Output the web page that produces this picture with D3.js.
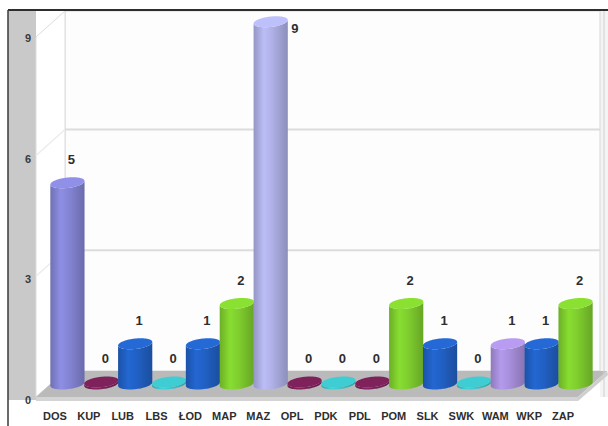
<!DOCTYPE html>
<html>
<head>
<meta charset="utf-8">
<script src="https://cdn.jsdelivr.net/npm/d3@7"></script>
<style>
  html, body { margin: 0; padding: 0; background: #fff; }
  svg { display: block; }
  .tick text { font-family: "Liberation Sans", Arial, sans-serif; font-weight: bold; }
</style>
</head>
<body>
<svg id="chart" width="608" height="426"></svg>
<script>
// Region codes and counts per region
const categories = ["DOS","KUP","LUB","LBS","ŁOD","MAP","MAZ","OPL","PDK","PDL","POM","SLK","SWK","WAM","WKP","ZAP"];
const counts     = [5, 0, 1, 0, 1, 2, 9, 0, 0, 0, 2, 1, 0, 1, 1, 2];
const yTicks     = [0, 3, 6, 9];

const svg = d3.select("#chart");
const W = 608, H = 426;

// Front plane of the 3D box and the oblique depth vector
const front = { left: 36, right: 578, base: 397 };
const depth = { dx: 29, dy: -26 };
const unit = 40.25;

const x = d3.scaleBand().domain(categories).range([front.left, front.right]).padding(0);
const y = d3.scaleLinear().domain([0, 9]).range([front.base, front.base - 9 * unit]);

const color = d3.scaleOrdinal().domain(categories).range([
  "#8484d4", "#7b2159", "#2160c4", "#3cc6cc", "#2160c4", "#7fce2e", "#aeb0e6", "#7b2159",
  "#3cc6cc", "#7b2159", "#7fce2e", "#2160c4", "#3cc6cc", "#a88fdc", "#2160c4", "#7fce2e"
]);

const proj = (px, py, t) => [px + depth.dx * t, py + depth.dy * t];
const backTop = 11;
const wallRight = 600;

// Chart area background
svg.append("rect").attr("x", 8).attr("y", 10).attr("width", W - 8).attr("height", H - 10).attr("fill", "#ffffff");
// Left grey band behind the value axis
svg.append("rect").attr("x", 8).attr("y", 10).attr("width", front.left - 8).attr("height", front.base + 3 - 10).attr("fill", "#c9c9c9");
// Right margin
svg.append("rect").attr("x", wallRight).attr("y", 10).attr("width", W - wallRight).attr("height", front.base - 10).attr("fill", "#f4f4f4");

// Back wall
const [bx0, by0] = proj(front.left, front.base, 1);
svg.append("rect").attr("x", bx0).attr("y", backTop).attr("width", wallRight - bx0).attr("height", by0 - backTop)
  .attr("fill", "#fdfdfd").attr("stroke", "#d6d6d6").attr("stroke-width", 1);

// Left side wall
const ftop = backTop - depth.dy;
svg.append("polygon")
  .attr("points", [[front.left, front.base], [bx0, by0], [bx0, backTop], [front.left, ftop]].map(p => p.join(",")).join(" "))
  .attr("fill", "#ffffff").attr("stroke", "#dcdcdc").attr("stroke-width", 1);

// Gridlines on back wall and side wall
yTicks.filter(v => v > 0).forEach(v => {
  const yb = y(v) + depth.dy;
  if (yb > backTop + 2) {
    svg.append("line").attr("x1", bx0).attr("x2", wallRight).attr("y1", yb).attr("y2", yb)
      .attr("stroke", "#dcdcdc").attr("stroke-width", 2);
  }
  if (y(v) > ftop + 2) {
    svg.append("line").attr("x1", front.left).attr("y1", y(v)).attr("x2", bx0).attr("y2", yb)
      .attr("stroke", "#ececec").attr("stroke-width", 1.5);
  }
});

// Floor
const floorPts = [[front.left, front.base], [front.right, front.base], proj(front.right, front.base, 1), [bx0, by0]];
svg.append("polygon").attr("points", floorPts.map(p => p.join(",")).join(" ")).attr("fill", "#bababa");
svg.append("polygon")
  .attr("points", [[front.left, front.base], [front.right, front.base], [front.right, front.base + 4], [front.left, front.base + 4]].map(p => p.join(",")).join(" "))
  .attr("fill", "#d4d4d4");
svg.append("polygon")
  .attr("points", [[front.right, front.base], proj(front.right, front.base, 1), [W, by0 + 4], [front.right, front.base + 4]].map(p => p.join(",")).join(" "))
  .attr("fill", "#cfcfcf");

// Gradients for the cylinder bodies
const defs = svg.append("defs");
const uniqueColors = Array.from(new Set(color.range()));
const gradId = c => "g" + c.slice(1);
uniqueColors.forEach(c => {
  const g = defs.append("linearGradient").attr("id", gradId(c)).attr("x1", 0).attr("x2", 1).attr("y1", 0).attr("y2", 0);
  const base = d3.color(c);
  g.append("stop").attr("offset", 0).attr("stop-color", base.darker(0.45));
  g.append("stop").attr("offset", 0.3).attr("stop-color", base.brighter(0.2));
  g.append("stop").attr("offset", 0.55).attr("stop-color", base);
  g.append("stop").attr("offset", 1).attr("stop-color", base.darker(0.6));
});

// Cylinder geometry: horizontal radius a, depth radius components (b, c)
const a = 16.2, b = 5.5, cR = 5.5, zMid = 0.5;
const ellipsePt = (cx, cy, th) => [cx + a * Math.cos(th) + b * Math.sin(th), cy - cR * Math.sin(th)];
const thExt = Math.atan2(b, a);

function frontArc(cx, cy, reverse) {
  const pts = d3.range(0, 41).map(i => ellipsePt(cx, cy, thExt + Math.PI + (i / 40) * Math.PI));
  return reverse ? pts.reverse() : pts;
}
function fullEllipse(cx, cy) {
  return d3.range(0, 73).map(i => ellipsePt(cx, cy, (i / 72) * 2 * Math.PI));
}

const line = d3.line();
const bars = svg.append("g");
categories.forEach((cat, i) => {
  const v = counts[i];
  const [cx, cyBase] = proj(x(cat) + x.bandwidth() / 2, front.base, zMid);
  const cyTop = (v === 0 ? cyBase - 2 : y(v) + depth.dy * zMid);
  const col = color(cat);
  const bottom = frontArc(cx, cyBase, false);
  const top = frontArc(cx, cyTop, true);
  const body = [...bottom, ...top];
  bars.append("path").attr("d", line(body) + "Z").attr("fill", `url(#${gradId(col)})`);
  bars.append("path").attr("d", line(fullEllipse(cx, cyTop)) + "Z")
    .attr("fill", d3.color(col).brighter(v === 0 ? 0.1 : 0.25));

  // value label
  let lx = cx + 4, ly = cyTop - 19;
  if (cyTop - 24 < backTop + 4) { lx = cx + a + 8; ly = cyTop + 11; }
  svg.append("text").attr("x", lx).attr("y", ly).attr("text-anchor", "middle")
    .attr("font-family", "Liberation Sans, Arial, sans-serif").attr("font-weight", "bold")
    .attr("font-size", 13).attr("fill", "#2e2e2e").text(v);
});

// Value axis on the front edge
const yAxis = svg.append("g").attr("transform", `translate(${front.left - 4},0)`)
  .call(d3.axisLeft(y).tickValues(yTicks).tickSize(0).tickPadding(1).tickFormat(d3.format("d")));
yAxis.select(".domain").remove();
yAxis.selectAll("text").attr("font-size", 11).attr("fill", "#3a3a3a").attr("dy", "0.6em");

// Category axis along the front edge of the floor
const xAxis = svg.append("g").attr("transform", `translate(2,${front.base + 15})`)
  .call(d3.axisBottom(x).tickSize(0).tickPadding(0));
xAxis.select(".domain").remove();
xAxis.selectAll("text").attr("font-size", 11).attr("fill", "#2e2e2e").attr("dy", "0.71em");

// Outer frame
svg.append("line").attr("x1", 8).attr("x2", W).attr("y1", 10).attr("y2", 10).attr("stroke", "#2e2e2e").attr("stroke-width", 2);
svg.append("line").attr("x1", 8).attr("x2", 8).attr("y1", 10).attr("y2", H).attr("stroke", "#3a3a3a").attr("stroke-width", 1.5);
svg.append("line").attr("x1", W - 4).attr("x2", W - 4).attr("y1", 11).attr("y2", front.base).attr("stroke", "#d0d0d0").attr("stroke-width", 1);
</script>
</body>
</html>
